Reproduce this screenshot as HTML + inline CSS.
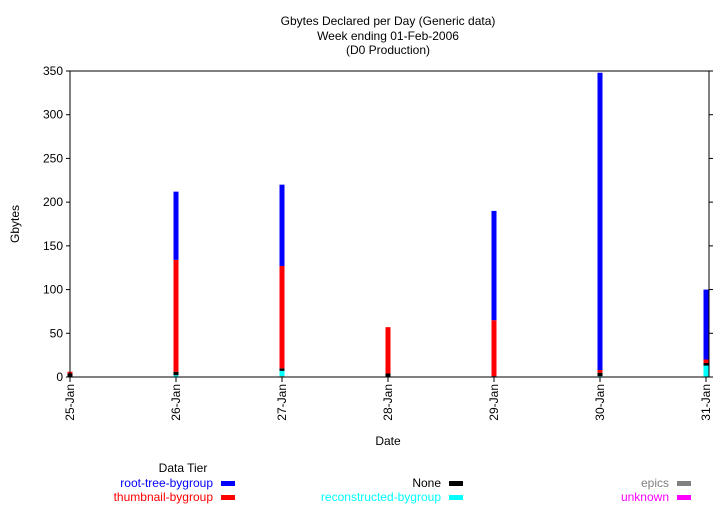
<!DOCTYPE html>
<html><head><meta charset="utf-8"><style>
body{margin:0;background:#fff;font-family:"Liberation Sans",sans-serif}
svg text{font-family:"Liberation Sans",sans-serif;font-size:12px}
</style></head><body>
<svg id="chart" width="721" height="505" xmlns="http://www.w3.org/2000/svg">
<text x="388" y="25" text-anchor="middle">Gbytes Declared per Day (Generic data)</text>
<text x="388" y="40" text-anchor="middle">Week ending 01-Feb-2006</text>
<text x="388" y="54" text-anchor="middle">(D0 Production)</text>
<text transform="translate(19,224) rotate(-90)" text-anchor="middle">Gbytes</text>
<text x="388" y="445" text-anchor="middle">Date</text>
<g id="plot"></g>
<g id="legend">
<text x="183" y="472" text-anchor="middle">Data Tier</text>
</g>
</svg>
<script>
const dates=["25-Jan","26-Jan","27-Jan","28-Jan","29-Jan","30-Jan","31-Jan"];
const seriesNames=["epics","reconstructed-bygroup","None","thumbnail-bygroup","root-tree-bygroup","unknown"];
const epics=[0,0,1,0,0,0,0];
const reconstructed=[0,2,6,0,0,1,13];
const none=[4,4,3,4,1,4,3];
const thumbnail=[2,128,117,53,64,3,4];
const rootTree=[0,78,93,0,125,340,80];
const unknown=[0,0,0,0,0,0,0];
const yTicks=[0,50,100,150,200,250,300,350];
const colors=["#808080","#00ffff","#000000","#ff0000","#0000ff","#ff00ff"];
const data=[epics,reconstructed,none,thumbnail,rootTree,unknown];
const NS="http://www.w3.org/2000/svg";
const X0=70,X1=709,Y0=377,Y1=71,YMAX=350;
const xs=i=>X0+(X1-X0-3)*i/(dates.length-1);
const ys=v=>Y0-(Y0-Y1)*v/YMAX;
const plot=document.getElementById('plot');
function mk(t,a,p){const e=document.createElementNS(NS,t);for(const k in a)e.setAttribute(k,a[k]);(p||plot).appendChild(e);return e;}
// bars
dates.forEach((d,i)=>{let acc=0;data.forEach((s,j)=>{const v=s[i];if(v<=0)return;
const r=mk('rect',{x:xs(i)-2.5,y:ys(acc+v),width:5,height:ys(acc)-ys(acc+v),fill:colors[j]});


acc+=v;});});
// axes
const fr=mk('rect',{x:X0,y:Y1,width:X1-X0,height:Y0-Y1,fill:'none',stroke:'#000','stroke-width':1});


yTicks.forEach(t=>{const y=ys(t);
mk('line',{x1:X0-4,x2:X0,y1:y,y2:y,stroke:'#000'});
mk('line',{x1:X1,x2:X1+4,y1:y,y2:y,stroke:'#000'});
const tx=mk('text',{x:X0-7,y:y+4,'text-anchor':'end'});tx.textContent=t;

});
dates.forEach((d,i)=>{const x=xs(i);
mk('line',{x1:x,x2:x,y1:Y0,y2:Y0+5,stroke:'#000'});
const tx=mk('text',{transform:`translate(${x+4},${Y0+7}) rotate(-90)`,'text-anchor':'end'});tx.textContent=d;

});
// legend
const lg=document.getElementById('legend');
const items=[["root-tree-bygroup","#0000ff",213,487],["thumbnail-bygroup","#ff0000",213,501],["None","#000000",441,487],["reconstructed-bygroup","#00ffff",441,501],["epics","#808080",669,487],["unknown","#ff00ff",669,501]];
items.forEach(it=>{const g=mk('g',{},lg);


const t=mk('text',{x:it[2],y:it[3],'text-anchor':'end',fill:it[1]},g);t.textContent=it[0];
mk('rect',{x:it[2]+8,y:it[3]-6,width:14,height:5,fill:it[1]},g);});
</script>
</body></html>
